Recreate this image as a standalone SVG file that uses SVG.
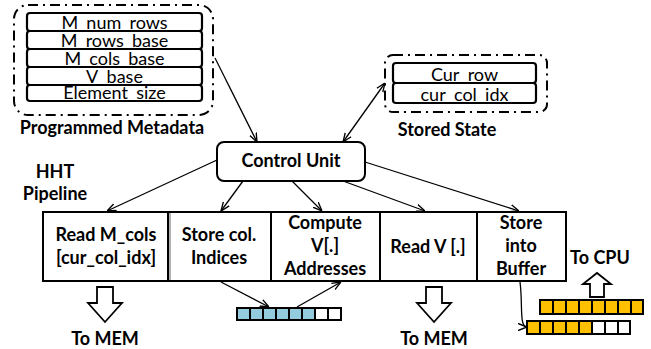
<svg xmlns="http://www.w3.org/2000/svg" width="651" height="349" viewBox="0 0 651 349">
<defs>
<style>
text{font-family:Lato,"Open Sans",sans-serif;fill:#000}
.b{font-weight:bold;font-size:18px;text-anchor:middle}
.r{font-size:18px;text-anchor:middle}
.dash{fill:none;stroke:#000;stroke-width:2;stroke-dasharray:10 5 2 5}
.box{fill:#fff;stroke:#000;stroke-width:2}
.bx{fill:none;stroke:#000;stroke-width:2.2}
.wf{fill:#fff}
.c{fill:none;stroke:#000;stroke-width:1.3}
.blue{fill:#93CDDD;stroke:#000;stroke-width:2}
.yel{fill:#FFC000;stroke:#000;stroke-width:2}
.emp{fill:#fff;stroke:#000;stroke-width:2}
.hol{fill:#fff;stroke:#000;stroke-width:1.8;stroke-linejoin:miter}
</style>
<marker id="ah" viewBox="0 0 10 10" refX="10" refY="5" markerWidth="9" markerHeight="9" markerUnits="userSpaceOnUse" orient="auto-start-reverse">
<path d="M0,1 L10,5 L0,9" fill="none" stroke="#000" stroke-width="1.5"/>
</marker>
</defs>
<rect width="651" height="349" fill="#fff"/>

<g id="programmed-metadata">
<rect class="dash" x="14" y="5" width="199" height="110" rx="14"/>
<rect class="wf" x="27" y="13" width="175" height="88"/>
<text class="r" x="114.5" y="29.3">M_num_rows</text>
<text class="r" x="114.5" y="47.3">M_rows_base</text>
<text class="r" x="114.5" y="65.3">M_cols_base</text>
<text class="r" x="114.5" y="83.3">V_base</text>
<text class="r" x="114.5" y="99.3">Element_size</text>
<rect class="bx" x="27" y="13" width="175" height="18" rx="3"/>
<rect class="bx" x="27" y="31" width="175" height="18" rx="3"/>
<rect class="bx" x="27" y="49" width="175" height="18" rx="3"/>
<rect class="bx" x="27" y="67" width="175" height="18" rx="3"/>
<rect class="bx" x="27" y="85" width="175" height="16" rx="3"/>
<text class="b" x="112" y="134">Programmed Metadata</text>
</g>

<g id="stored-state">
<rect class="dash" x="385" y="55" width="162" height="57" rx="8"/>
<rect class="wf" x="393" y="63" width="143" height="40"/>
<text class="r" x="464.5" y="81.3">Cur_row</text>
<text class="r" x="464.5" y="101.3">cur_col_idx</text>
<rect class="bx" x="393" y="63" width="143" height="20" rx="3"/>
<rect class="bx" x="393" y="83" width="143" height="20" rx="3"/>
<text class="b" x="447" y="136">Stored State</text>
</g>

<g id="control-unit">
<rect class="box" x="217" y="142" width="148" height="39" rx="7"/>
<text class="b" x="291" y="167">Control Unit</text>
</g>

<g id="hht-label">
<text class="b" x="55" y="178">HHT</text>
<text class="b" x="55" y="200">Pipeline</text>
</g>

<g id="pipeline">
<rect class="box" x="43" y="212" width="523" height="69"/>
<line x1="170" y1="213" x2="170" y2="280" stroke="#999" stroke-width="1.5"/>
<line x1="168" y1="212" x2="168" y2="281" stroke="#000" stroke-width="2"/>
<line x1="271" y1="212" x2="271" y2="281" stroke="#000" stroke-width="2"/>
<line x1="380" y1="212" x2="380" y2="281" stroke="#000" stroke-width="2"/>
<line x1="477" y1="212" x2="477" y2="281" stroke="#000" stroke-width="2"/>
</g>
<g id="stage-read-mcols">
<text class="b" x="106" y="241">Read M_cols</text>
<text class="b" x="106" y="264">[cur_col_idx]</text>
</g>
<g id="stage-store-col">
<text class="b" x="219" y="241">Store col.</text>
<text class="b" x="219" y="264">Indices</text>
</g>
<g id="stage-compute">
<text class="b" x="325" y="229">Compute</text>
<text class="b" x="325" y="252">V[.]</text>
<text class="b" x="325" y="275">Addresses</text>
</g>
<g id="stage-read-v">
<text class="b" x="428" y="253">Read V [.]</text>
</g>
<g id="stage-store-buffer">
<text class="b" x="521" y="229">Store</text>
<text class="b" x="521" y="252">into</text>
<text class="b" x="521" y="275">Buffer</text>
</g>

<g id="col-index-buffer">
<rect class="blue" x="237" y="308" width="13" height="12"/>
<rect class="blue" x="250" y="308" width="13" height="12"/>
<rect class="blue" x="263" y="308" width="13" height="12"/>
<rect class="blue" x="276" y="308" width="13" height="12"/>
<rect class="blue" x="289" y="308" width="13" height="12"/>
<rect class="blue" x="302" y="308" width="13" height="12"/>
<rect class="emp" x="315" y="308" width="13" height="12"/>
<rect class="emp" x="328" y="308" width="13" height="12"/>
</g>

<g id="output-buffer-full">
<rect class="yel" x="540" y="300" width="13" height="14"/>
<rect class="yel" x="553" y="300" width="13" height="14"/>
<rect class="yel" x="566" y="300" width="13" height="14"/>
<rect class="yel" x="579" y="300" width="13" height="14"/>
<rect class="yel" x="592" y="300" width="13" height="14"/>
<rect class="yel" x="605" y="300" width="13" height="14"/>
<rect class="yel" x="618" y="300" width="13" height="14"/>
<rect class="yel" x="631" y="300" width="12" height="14"/>
</g>
<g id="output-buffer-partial">
<rect class="yel" x="527" y="321" width="13" height="13"/>
<rect class="yel" x="540" y="321" width="13" height="13"/>
<rect class="yel" x="553" y="321" width="13" height="13"/>
<rect class="yel" x="566" y="321" width="13" height="13"/>
<rect class="yel" x="579" y="321" width="13" height="13"/>
<rect class="emp" x="592" y="321" width="13" height="13"/>
<rect class="emp" x="605" y="321" width="13" height="13"/>
<rect class="emp" x="618" y="321" width="12" height="13"/>
</g>

<g id="to-mem-1">
<path class="hol" d="M97,287 H113 V303 H122 L105,322 L88,303 H97 Z"/>
<text class="b" x="105" y="345">To MEM</text>
</g>
<g id="to-mem-2">
<path class="hol" d="M426,287 H442 V303 H451 L434,322 L417,303 H426 Z"/>
<text class="b" x="434" y="345">To MEM</text>
</g>
<g id="to-cpu">
<path class="hol" d="M590,297 V284 H583 L597,273 L611,284 H604 V297 Z"/>
<text class="b" x="600" y="264">To CPU</text>
</g>

<g id="connectors">
<path class="c" d="M215,58 L257,142" marker-end="url(#ah)"/>
<path class="c" d="M343,142 L385,83" marker-start="url(#ah)" marker-end="url(#ah)"/>
<path class="c" d="M217,160 L107,211" marker-end="url(#ah)"/>
<path class="c" d="M243,181 L221,211" marker-end="url(#ah)"/>
<path class="c" d="M292,181 L322,211" marker-end="url(#ah)"/>
<path class="c" d="M343,181 L425,211" marker-end="url(#ah)"/>
<path class="c" d="M365,162 L519,211" marker-end="url(#ah)"/>
<path class="c" d="M221,282 L269,307" marker-end="url(#ah)"/>
<path class="c" d="M297,307 L341,282" marker-end="url(#ah)"/>
<path class="c" d="M520,282 C523,305 519,327 527,327" marker-end="url(#ah)"/>
</g>
</svg>
